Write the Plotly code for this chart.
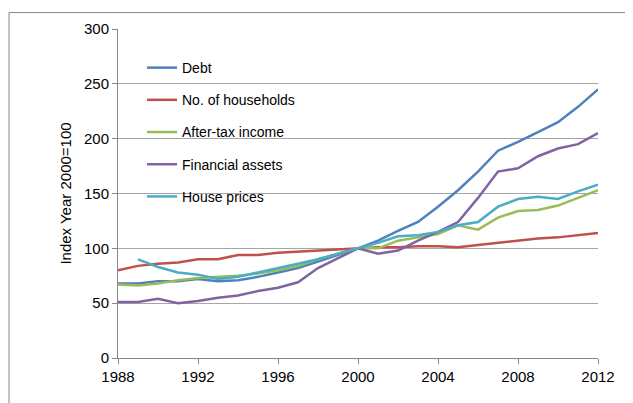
import plotly.graph_objects as go

years = list(range(1988, 2013))
debt = [68, 68, 70, 70, 72, 70, 71, 74, 78, 82, 88, 94, 100, 107, 116, 124, 138, 153, 170, 189, 197, 206, 215, 229, 245]
households = [80, 84, 86, 87, 90, 90, 94, 94, 96, 97, 98, 99, 100, 101, 101, 102, 102, 101, 103, 105, 107, 109, 110, 112, 114]
after_tax = [67, 66, 68, 71, 73, 74, 75, 77, 80, 84, 90, 95, 100, 100, 107, 110, 113, 121, 117, 128, 134, 135, 139, 146, 153]
financial = [51, 51, 54, 50, 52, 55, 57, 61, 64, 69, 82, 91, 100, 95, 98, 107, 115, 124, 146, 170, 173, 184, 191, 195, 205]
house_years = list(range(1989, 2013))
house = [90, 83, 78, 76, 72, 74, 78, 82, 86, 90, 95, 100, 105, 111, 112, 115, 121, 124, 138, 145, 147, 145, 152, 158]

series = [
    ("Debt", years, debt, "#4F81BD"),
    ("No. of households", years, households, "#C0504D"),
    ("After-tax income", years, after_tax, "#9BBB59"),
    ("Financial assets", years, financial, "#8064A2"),
    ("House prices", house_years, house, "#4BACC6"),
]

fig = go.Figure()
for name, xs, ys, col in series:
    fig.add_trace(go.Scatter(x=xs, y=ys, name=name, mode="lines", legendgroup=name,
                             line=dict(color=col, width=2.5)))

fig.update_layout(
    width=633, height=403,
    margin=dict(l=110, r=43, t=16, b=53),
    paper_bgcolor="white", plot_bgcolor="white",
    font=dict(family="Liberation Sans", size=15, color="black"),
    showlegend=True,
    legend=dict(x=0.05, y=0.93, xanchor="left", yanchor="top", tracegroupgap=11,
                bgcolor="rgba(0,0,0,0)", font=dict(size=14)),
    xaxis=dict(range=[1988, 2012], tickvals=[1988, 1992, 1996, 2000, 2004, 2008, 2012],
               showgrid=False, showline=True, linecolor="#868686", ticks="outside",
               ticklen=5, tickcolor="#868686"),
    yaxis=dict(range=[0, 300], dtick=50, showgrid=True, gridcolor="#a6a6a6", gridwidth=1,
               showline=True, linecolor="#868686", ticks="outside", ticklen=5,
               tickcolor="#868686",
               title=dict(text="Index Year 2000=100", standoff=8, font=dict(size=15))),
    shapes=[dict(type="rect", xref="paper", yref="paper", x0=-0.227, x1=1.087,
                 y0=-0.157, y1=1.05, line=dict(color="#868686", width=1))],
)

fig.write_html("out.html")
